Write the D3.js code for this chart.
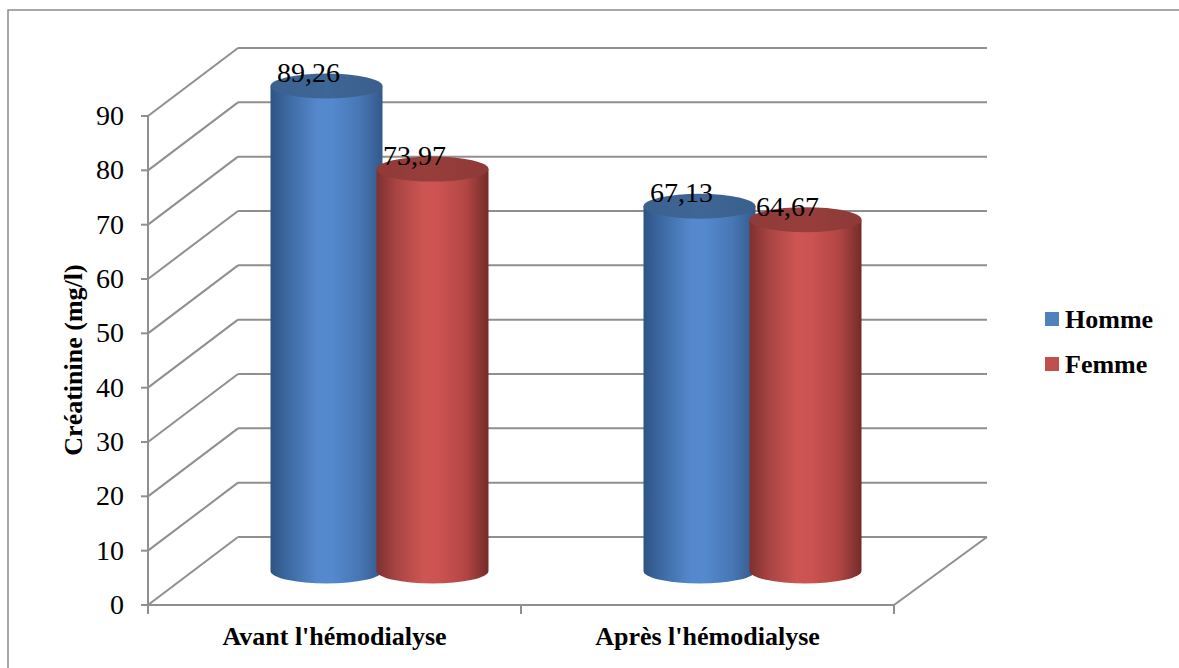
<!DOCTYPE html>
<html>
<head>
<meta charset="utf-8">
<script src="https://cdn.jsdelivr.net/npm/d3@7"></script>
<style>
  html, body { margin: 0; padding: 0; background: #fff; }
  svg { display: block; }
  .serif { font-family: "Liberation Serif", "Tinos", "Times New Roman", serif; fill: #000; }
</style>
</head>
<body>
<svg id="chart" width="1179" height="668"></svg>
<script>
// Créatinine moyenne par sexe, avant et après la séance d'hémodialyse
const categories = ["Avant l'hémodialyse", "Après l'hémodialyse"];
const seriesNames = ["Homme", "Femme"];
const homme = [89.26, 67.13];
const femme = [73.97, 64.67];
const yTicks = [0, 10, 20, 30, 40, 50, 60, 70, 80, 90];
const valueLabels = [["89,26", "67,13"], ["73,97", "64,67"]];

const seriesValues = [homme, femme];

const svg = d3.select("#chart");
const W = 1179, H = 668;

// Frame around the chart area (right and bottom edges run off the page)
svg.append("path")
  .attr("d", `M8,${H + 2} V10 H${W + 2}`)
  .attr("fill", "none").attr("stroke", "#8c8c8c").attr("stroke-width", 1.5);

// Front plane scales
const x = d3.scaleBand().domain(categories).range([148, 894]).paddingInner(0).paddingOuter(0);
const y = d3.scaleLinear().domain([0, 90]).range([605, 116]);

// Depth offset of the 3D box (front -> back)
const depth = { dx: 90, dy: -68 };
const gridColor = "#8f8f8f";
const gridW = 2;

const g = svg.append("g");

// Back wall gridlines
g.append("g").selectAll("line").data(yTicks).join("line")
  .attr("x1", 148 + depth.dx).attr("x2", 894 + depth.dx + 3)
  .attr("y1", d => y(d) + depth.dy).attr("y2", d => y(d) + depth.dy)
  .attr("stroke", gridColor).attr("stroke-width", gridW);

// Side wall gridlines (front axis -> back wall)
g.append("g").selectAll("line").data(yTicks).join("line")
  .attr("x1", 148).attr("x2", 148 + depth.dx)
  .attr("y1", d => y(d)).attr("y2", d => y(d) + depth.dy)
  .attr("stroke", gridColor).attr("stroke-width", gridW);

// Floor: front edge and right edge
g.append("line")
  .attr("x1", 148).attr("x2", 894).attr("y1", y(0)).attr("y2", y(0))
  .attr("stroke", gridColor).attr("stroke-width", gridW);
g.append("line")
  .attr("x1", 894).attr("x2", 894 + depth.dx + 3).attr("y1", y(0)).attr("y2", y(0) + depth.dy)
  .attr("stroke", gridColor).attr("stroke-width", gridW);

// Vertical value axis with tick marks
g.append("line")
  .attr("x1", 148).attr("x2", 148).attr("y1", y(90)).attr("y2", y(0))
  .attr("stroke", gridColor).attr("stroke-width", gridW);
g.append("g").selectAll("line").data(yTicks).join("line")
  .attr("x1", 141).attr("x2", 148)
  .attr("y1", d => y(d)).attr("y2", d => y(d))
  .attr("stroke", gridColor).attr("stroke-width", gridW);

// Category tick marks on the floor front edge
const catEdges = [x.range()[0], ...categories.map(c => x(c) + x.bandwidth())];
g.append("g").selectAll("line").data(catEdges).join("line")
  .attr("x1", d => d).attr("x2", d => d).attr("y1", y(0)).attr("y2", y(0) + 9)
  .attr("stroke", gridColor).attr("stroke-width", gridW);

// Tick labels
g.append("g").selectAll("text").data(yTicks).join("text")
  .attr("class", "serif")
  .attr("x", 124).attr("y", d => y(d) + 9)
  .attr("text-anchor", "end")
  .style("font-size", "28px")
  .text(d => d);

// Category labels
g.append("g").selectAll("text").data(categories).join("text")
  .attr("class", "serif")
  .attr("x", d => x(d) + x.bandwidth() / 2).attr("y", 645)
  .attr("text-anchor", "middle")
  .style("font-weight", "bold").style("font-size", "26px")
  .text(d => d);

// Axis title
svg.append("text")
  .attr("class", "serif")
  .attr("transform", "translate(82,360) rotate(-90)")
  .attr("text-anchor", "middle")
  .style("font-weight", "bold").style("font-size", "26px")
  .text("Créatinine (mg/l)");

// Gradients for cylinder shading
const defs = svg.append("defs");
const palettes = [
  { stops: ["#2e5484", "#3f6ca6", "#5588cc", "#5489ce", "#4776b4", "#33598c"], top: "#3e6696", key: "#4f81bd" },
  { stops: ["#7f302e", "#a84543", "#cd5552", "#cc5351", "#b24644", "#742b29"], top: "#973e3c", key: "#c0504d" }
];
const offs = [0, 0.18, 0.42, 0.55, 0.8, 1];
palettes.forEach((p, i) => {
  const lg = defs.append("linearGradient").attr("id", "side" + i)
    .attr("x1", "0%").attr("x2", "100%").attr("y1", "0%").attr("y2", "0%");
  p.stops.forEach((c, k) => lg.append("stop").attr("offset", offs[k]).attr("stop-color", c));
  const tg = defs.append("linearGradient").attr("id", "top" + i)
    .attr("x1", "0%").attr("x2", "100%").attr("y1", "0%").attr("y2", "0%");
  tg.append("stop").attr("offset", 0).attr("stop-color", d3.color(p.top).darker(0.15));
  tg.append("stop").attr("offset", 0.5).attr("stop-color", p.top);
  tg.append("stop").attr("offset", 1).attr("stop-color", d3.color(p.top).darker(0.2));
});

// Series placement inside each category, at mid depth
const xs = d3.scaleBand().domain(seriesNames).range([-106, 106]).padding(0);
const rx = 56, ry = 12.5;
const mid = { dx: depth.dx / 2, dy: depth.dy / 2 };

const bars = [];
categories.forEach((c, ci) => {
  seriesNames.forEach((s, si) => {
    bars.push({ c, s, si, v: seriesValues[si][ci], label: valueLabels[si][ci] });
  });
});

const cyl = g.append("g").selectAll("g").data(bars).join("g");
cyl.each(function (d) {
  const el = d3.select(this);
  const cx = x(d.c) + x.bandwidth() / 2 + mid.dx + xs(d.s) + xs.bandwidth() / 2;
  const yb = y(0) + mid.dy;
  const yt = y(d.v) + mid.dy;
  el.append("path")
    .attr("d", `M${cx - rx},${yt} V${yb} A${rx},${ry} 0 0 0 ${cx + rx},${yb} V${yt} Z`)
    .attr("fill", `url(#side${d.si})`);
  el.append("ellipse")
    .attr("cx", cx).attr("cy", yt).attr("rx", rx).attr("ry", ry)
    .attr("fill", `url(#top${d.si})`);
  d.cx = cx; d.yt = yt;
});

// Value labels
g.append("g").selectAll("text").data(bars).join("text")
  .attr("class", "serif")
  .attr("x", d => d.cx - 18).attr("y", d => d.yt - 4)
  .attr("text-anchor", "middle")
  .style("font-size", "28px")
  .text(d => d.label);

// Legend
const legend = svg.append("g").selectAll("g").data(seriesNames).join("g")
  .attr("transform", (d, i) => `translate(1045,${312 + i * 45})`);
legend.append("rect").attr("width", 14).attr("height", 14)
  .attr("fill", (d, i) => palettes[i].key);
legend.append("text")
  .attr("class", "serif")
  .attr("x", 20).attr("y", 16)
  .style("font-weight", "bold").style("font-size", "26px")
  .text(d => d);
</script>
</body>
</html>
